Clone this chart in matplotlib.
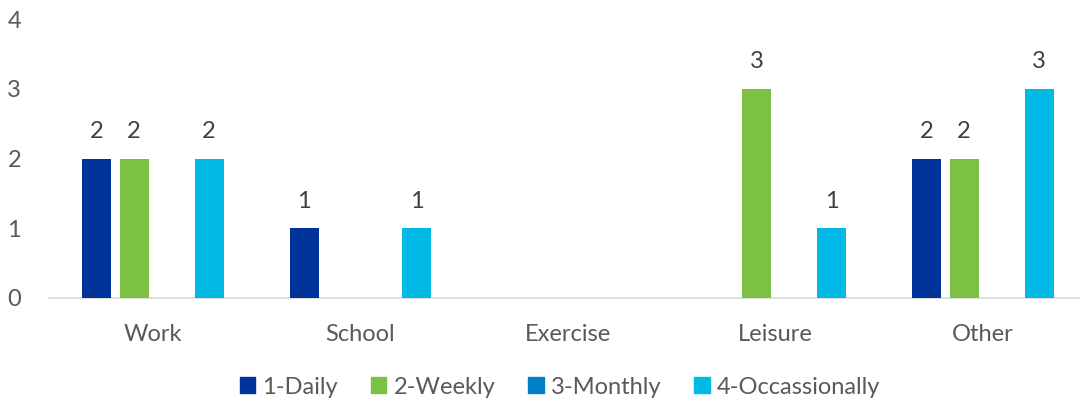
import matplotlib
matplotlib.use("Agg")
import matplotlib.pyplot as plt
import numpy as np
from matplotlib.patches import Patch

categories = ["Work", "School", "Exercise", "Leisure", "Other"]
series_names = ["1-Daily", "2-Weekly", "3-Monthly", "4-Occassionally"]
daily = [2, 1, 0, 0, 2]
weekly = [2, 0, 0, 3, 2]
monthly = [0, 0, 0, 0, 0]
occasionally = [2, 1, 0, 1, 3]
yticks = [0, 1, 2, 3, 4]

colors = ["#003399", "#7DC142", "#0080C6", "#00B9E4"]
series = [daily, weekly, monthly, occasionally]

plt.rcParams['font.family'] = ['Lato', 'DejaVu Sans']

fig = plt.figure(figsize=(10.8, 4.05), dpi=100)
ax = fig.add_axes([49/1080, 1-298/405, 1-49/1080, (298-19)/405])

x = np.arange(len(categories))
step = 37.5/207.5
width = 29/207.5
for i, (vals, c, name) in enumerate(zip(series, colors, series_names)):
    pos = x + (i-1.5)*step
    ax.bar(pos, vals, width=width, color=c, label=name, zorder=3)
    for p, v in zip(pos, vals):
        if v:
            ax.annotate(str(v), (p, v), xytext=(0, 12), textcoords="offset points",
                        ha="center", va="bottom", fontsize=17, color="#404040")

ax.set_xlim(-0.5, -0.5 + (1080-49)/207.5)
ax.set_ylim(0, 4)
ax.set_yticks(yticks)
ax.set_xticks(x)
ax.set_xticklabels(categories)
for s in ["top", "right", "left"]:
    ax.spines[s].set_visible(False)
ax.spines["bottom"].set_color("#D9D9D9")
ax.spines["bottom"].set_linewidth(1.2)
ax.tick_params(axis="both", length=0, labelsize=17, labelcolor="#595959")
ax.tick_params(axis="x", pad=19)
ax.tick_params(axis="y", pad=20)
for lbl in ax.get_yticklabels():
    lbl.set_clip_on(False)

handles = [Patch(color=c, label=n) for c, n in zip(colors, series_names)]
fig.legend(handles=handles, loc="center", bbox_to_anchor=(560/1080, 1-387/405), ncol=4,
           frameon=False, fontsize=17, handlelength=0.65, handleheight=0.65,
           handletextpad=0.3, columnspacing=1.4, labelcolor="#595959")

fig.savefig("out.png", dpi=100)
